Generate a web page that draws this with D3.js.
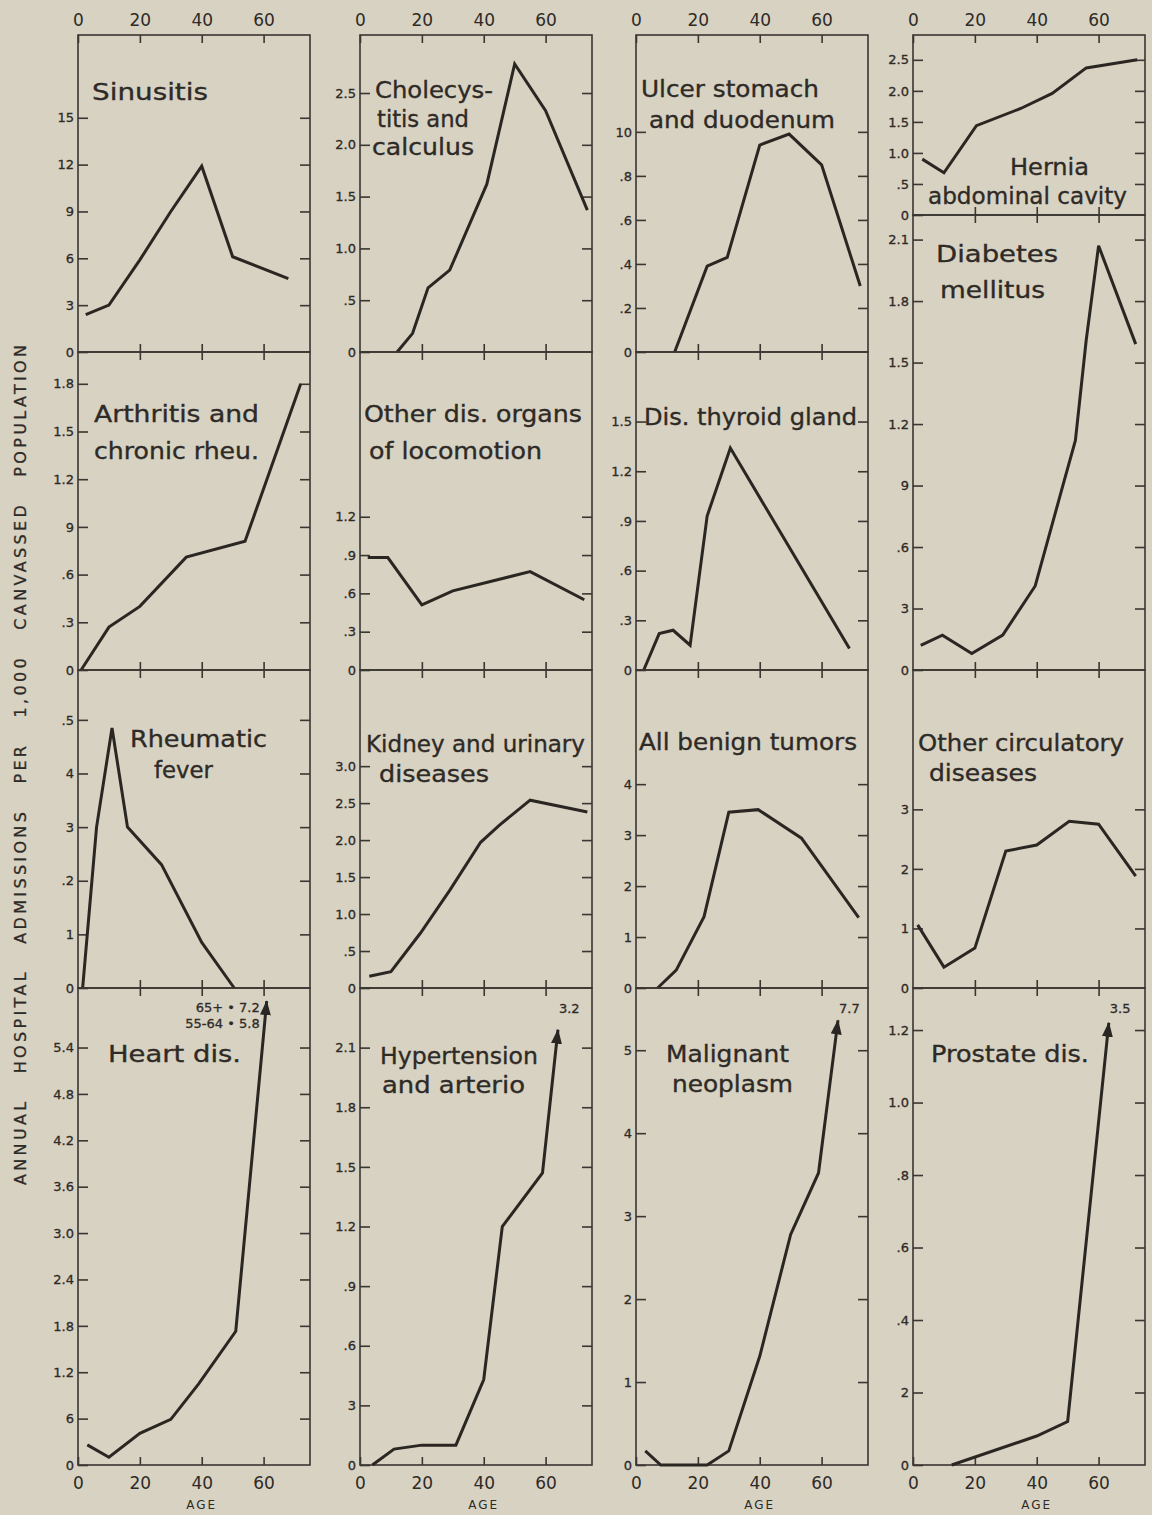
<!DOCTYPE html>
<meta charset="utf-8">
<style>
    body {
        margin: 0;
        background: #d8d2c3;
    }

    svg {
        display: block;
    }

    text {
        font-family: "DejaVu Sans", sans-serif;
        fill: #2e2a26;
    }

    .frame {
        fill: none;
        stroke: #3a3631;
        stroke-width: 1.6;
    }

    .tick line {
        stroke: #3a3631;
        stroke-width: 1.6;
    }

    .ytick text {
        font-size: 13px;
        stroke: #2e2a26;
        stroke-width: 0.3;
    }

    .xlab text {
        font-size: 17px;
    }

    .series {
        fill: none;
        stroke: #2a2723;
        stroke-width: 3;
        stroke-linejoin: miter;
    }

    .title {
        font-size: 23px;
        stroke: #2e2a26;
        stroke-width: 0.35;
    }

    .note {
        font-size: 13px;
        stroke: #2e2a26;
        stroke-width: 0.3;
    }
</style>
<svg width="1152" height="1515"></svg>
<script src="https://cdn.jsdelivr.net/npm/d3@7"></script>
<script>

    // age (years) and admissions per 1,000
    var sinusitisAge = [2.5, 10, 20, 30, 40, 50, 68];
    var sinusitisRate = [2.4, 3.0, 5.9, 9.0, 11.9, 6.1, 4.7];

    var cholecystitisAge = [12, 17, 22, 29, 41, 50, 60, 73.5];
    var cholecystitisRate = [0, 0.18, 0.62, 0.79, 1.62, 2.78, 2.33, 1.37];

    var ulcerAge = [12.5, 23, 29.5, 40, 49.5, 60, 72.5];
    var ulcerRate = [0, 0.39, 0.43, 0.94, 0.99, 0.85, 0.30];

    var herniaAge = [3, 10, 20.5, 35, 45, 56, 72.5];
    var herniaRate = [0.9, 0.68, 1.44, 1.72, 1.96, 2.37, 2.5];

    var diabetesAge = [2.5, 9.5, 19, 29, 39.5, 49, 52.5, 56, 60, 72];
    var diabetesRate = [0.12, 0.17, 0.08, 0.17, 0.41, 0.93, 1.12, 1.61, 2.07, 1.59];

    var arthritisAge = [1, 10, 20, 35, 54, 72];
    var arthritisRate = [0, 0.27, 0.40, 0.71, 0.81, 1.8];

    var locomotionAge = [2.5, 9, 20, 30, 55, 72.5];
    var locomotionRate = [0.88, 0.88, 0.51, 0.62, 0.77, 0.55];

    var thyroidAge = [2.5, 7.5, 12, 17.5, 23, 30.5, 69];
    var thyroidRate = [0, 0.22, 0.24, 0.15, 0.93, 1.34, 0.13];

    var rheumaticAge = [1.5, 6, 11, 16, 27, 40, 50.5];
    var rheumaticRate = [0, 0.30, 0.485, 0.30, 0.23, 0.085, 0];

    var kidneyAge = [3, 10, 19.5, 29, 39, 45, 55, 73.5];
    var kidneyRate = [0.16, 0.22, 0.74, 1.32, 1.97, 2.2, 2.54, 2.38];

    var benignAge = [7, 13, 22, 30, 39.5, 53.5, 72];
    var benignRate = [0, 0.35, 1.4, 3.45, 3.5, 2.94, 1.38];

    var circulatoryAge = [1.5, 10, 20, 30, 40, 50.5, 60, 72];
    var circulatoryRate = [1.06, 0.35, 0.67, 2.3, 2.4, 2.8, 2.75, 1.88];

    var heartAge = [3, 10, 20, 30, 39, 51, 61];
    var heartRate = [0.26, 0.10, 0.41, 0.59, 1.05, 1.73, 6.0];

    var hypertensionAge = [4, 11, 20, 31, 40, 46, 59, 64];
    var hypertensionRate = [0, 0.08, 0.10, 0.10, 0.43, 1.2, 1.47, 2.19];

    var malignantAge = [3, 8, 23, 30, 40, 50, 59, 65.3];
    var malignantRate = [0.17, 0, 0, 0.17, 1.31, 2.78, 3.52, 5.36];

    var prostateAge = [12.5, 40, 50, 63.3];
    var prostateRate = [0, 0.08, 0.12, 1.22];

    // y tick values and the labels as printed
    var sinusitisTicks = [0, 3, 6, 9, 12, 15];
    var sinusitisLabels = ["0", "3", "6", "9", "12", "15"];
    var halfTicks = [0, 0.5, 1, 1.5, 2, 2.5];
    var halfLabels = ["0", ".5", "1.0", "1.5", "2.0", "2.5"];
    var ulcerTicks = [0, 0.2, 0.4, 0.6, 0.8, 1.0];
    var ulcerLabels = ["0", ".2", ".4", ".6", ".8", "10"];
    var diabetesTicks = [0, 0.3, 0.6, 0.9, 1.2, 1.5, 1.8, 2.1];
    var diabetesLabels = ["0", "3", ".6", "9", "1.2", "1.5", "1.8", "2.1"];
    var arthritisTicks = [0, 0.3, 0.6, 0.9, 1.2, 1.5, 1.8];
    var arthritisLabels = ["0", ".3", ".6", "9", "1.2", "1.5", "1.8"];
    var locomotionTicks = [0, 0.3, 0.6, 0.9, 1.2];
    var locomotionLabels = ["0", ".3", ".6", ".9", "1.2"];
    var thyroidTicks = [0, 0.3, 0.6, 0.9, 1.2, 1.5];
    var thyroidLabels = ["0", ".3", ".6", ".9", "1.2", "1.5"];
    var rheumaticTicks = [0, 0.1, 0.2, 0.3, 0.4, 0.5];
    var rheumaticLabels = ["0", "1", ".2", "3", "4", ".5"];
    var kidneyTicks = [0, 0.5, 1, 1.5, 2, 2.5, 3];
    var kidneyLabels = ["0", ".5", "1.0", "1.5", "2.0", "2.5", "3.0"];
    var benignTicks = [0, 1, 2, 3, 4];
    var benignLabels = ["0", "1", "2", "3", "4"];
    var circulatoryTicks = [0, 1, 2, 3];
    var circulatoryLabels = ["0", "1", "2", "3"];
    var heartTicks = [0, 0.6, 1.2, 1.8, 2.4, 3.0, 3.6, 4.2, 4.8, 5.4];
    var heartLabels = ["0", "6", "1.2", "1.8", "2.4", "3.0", "3.6", "4.2", "4.8", "5.4"];
    var hypertensionTicks = [0, 0.3, 0.6, 0.9, 1.2, 1.5, 1.8, 2.1];
    var hypertensionLabels = ["0", "3", ".6", ".9", "1.2", "1.5", "1.8", "2.1"];
    var malignantTicks = [0, 1, 2, 3, 4, 5];
    var malignantLabels = ["0", "1", "2", "3", "4", "5"];
    var prostateTicks = [0, 0.2, 0.4, 0.6, 0.8, 1.0, 1.2];
    var prostateLabels = ["0", "2", ".4", ".6", ".8", "1.0", "1.2"];

    var ageTicks = [0, 20, 40, 60];

    var svg = d3.select("svg"),
        width = +svg.attr("width"),
        height = +svg.attr("height");

    var colLeft = [78, 360, 636, 913],
        panelW = 232,
        figTop = 35,
        figBottom = 1465;

    var x = d3.scaleLinear().domain([0, 75]).range([0, panelW]);

    // layout: panel box (top/bottom in px), top of y scale, title lines [text, dx, baseline, width]
    var panels = [
        { col: 0, top: 35, bottom: 352, yMax: 20.3, age: sinusitisAge, rate: sinusitisRate, ticks: sinusitisTicks, labels: sinusitisLabels,
          title: [["Sinusitis", 14, 65, 116]] },
        { col: 1, top: 35, bottom: 352, yMax: 3.06, age: cholecystitisAge, rate: cholecystitisRate, ticks: halfTicks, labels: halfLabels,
          title: [["Cholecys-", 15, 63, 118], ["titis and", 17, 92, 92], ["calculus", 12, 120, 102]] },
        { col: 2, top: 35, bottom: 352, yMax: 1.44, age: ulcerAge, rate: ulcerRate, ticks: ulcerTicks, labels: ulcerLabels,
          title: [["Ulcer stomach", 5, 62, 178], ["and duodenum", 13, 93, 186]] },
        { col: 3, top: 35, bottom: 215, yMax: 2.9, age: herniaAge, rate: herniaRate, ticks: halfTicks, labels: halfLabels,
          title: [["Hernia", 97, 140, 79], ["abdominal cavity", 15, 169, 199]] },
        { col: 3, top: 215, bottom: 670, yMax: 2.22, age: diabetesAge, rate: diabetesRate, ticks: diabetesTicks, labels: diabetesLabels,
          title: [["Diabetes", 23, 47, 122], ["mellitus", 27, 83, 105]] },
        { col: 0, top: 352, bottom: 670, yMax: 2.0, age: arthritisAge, rate: arthritisRate, ticks: arthritisTicks, labels: arthritisLabels,
          title: [["Arthritis and", 16, 70, 165], ["chronic rheu.", 16, 107, 165]] },
        { col: 1, top: 352, bottom: 670, yMax: 2.49, age: locomotionAge, rate: locomotionRate, ticks: locomotionTicks, labels: locomotionLabels,
          title: [["Other dis. organs", 4, 70, 218], ["of locomotion", 9, 107, 173]] },
        { col: 2, top: 352, bottom: 670, yMax: 1.92, age: thyroidAge, rate: thyroidRate, ticks: thyroidTicks, labels: thyroidLabels,
          title: [["Dis. thyroid gland", 8, 73, 213]] },
        { col: 0, top: 670, bottom: 988, yMax: 0.593, age: rheumaticAge, rate: rheumaticRate, ticks: rheumaticTicks, labels: rheumaticLabels,
          title: [["Rheumatic", 52, 77, 137], ["fever", 76, 108, 59]] },
        { col: 1, top: 670, bottom: 988, yMax: 4.3, age: kidneyAge, rate: kidneyRate, ticks: kidneyTicks, labels: kidneyLabels,
          title: [["Kidney and urinary", 6, 82, 219], ["diseases", 19, 112, 110]] },
        { col: 2, top: 670, bottom: 988, yMax: 6.24, age: benignAge, rate: benignRate, ticks: benignTicks, labels: benignLabels,
          title: [["All benign tumors", 3, 80, 218]] },
        { col: 3, top: 670, bottom: 988, yMax: 5.34, age: circulatoryAge, rate: circulatoryRate, ticks: circulatoryTicks, labels: circulatoryLabels,
          title: [["Other circulatory", 5, 81, 206], ["diseases", 16, 111, 108]] },
        { col: 0, top: 988, bottom: 1465, yMax: 6.17, age: heartAge, rate: heartRate, ticks: heartTicks, labels: heartLabels, arrow: true,
          title: [["Heart dis.", 30, 74, 133]], note: ["65+ \u2022 7.2", "55-64 \u2022 5.8"], noteSide: "left" },
        { col: 1, top: 988, bottom: 1465, yMax: 2.4, age: hypertensionAge, rate: hypertensionRate, ticks: hypertensionTicks, labels: hypertensionLabels, arrow: true,
          title: [["Hypertension", 20, 76, 158], ["and arterio", 22, 105, 143]], note: ["3.2"] },
        { col: 2, top: 988, bottom: 1465, yMax: 5.75, age: malignantAge, rate: malignantRate, ticks: malignantTicks, labels: malignantLabels, arrow: true,
          title: [["Malignant", 30, 74, 123], ["neoplasm", 36, 104, 121]], note: ["7.7"] },
        { col: 3, top: 988, bottom: 1465, yMax: 1.316, age: prostateAge, rate: prostateRate, ticks: prostateTicks, labels: prostateLabels, arrow: true,
          title: [["Prostate dis.", 18, 74, 158]], note: ["3.5"] }
    ];

    svg.append("rect")
        .attr("width", width)
        .attr("height", height)
        .attr("fill", "#d8d2c3");

    svg.append("defs").append("marker")
        .attr("id", "head")
        .attr("viewBox", "0 0 15 11")
        .attr("refX", 14)
        .attr("refY", 5.5)
        .attr("markerUnits", "userSpaceOnUse")
        .attr("markerWidth", 15)
        .attr("markerHeight", 11)
        .attr("orient", "auto")
        .append("path")
        .attr("d", "M0,0L15,5.5L0,11Z")
        .attr("fill", "#2a2723");

    panels.forEach(function (p) {
        var y = d3.scaleLinear()
            .domain([0, p.yMax])
            .range([p.bottom - p.top, 0]);

        var h = p.bottom - p.top;

        var g = svg.append("g")
            .attr("transform", "translate(" + colLeft[p.col] + "," + p.top + ")");

        g.append("rect")
            .attr("class", "frame")
            .attr("width", panelW)
            .attr("height", h);

        // left ticks with labels, pointing inward
        g.append("g")
            .attr("class", "ytick")
            .call(d3.axisLeft(y)
                .tickValues(p.ticks)
                .tickSize(-10)
                .tickPadding(4)
                .tickFormat(function (d, i) { return p.labels[i]; }))
            .call(function (a) { a.select(".domain").remove(); });

        // right ticks, no labels
        g.append("g")
            .attr("transform", "translate(" + panelW + ",0)")
            .call(d3.axisRight(y)
                .tickValues(p.ticks.filter(function (d) { return d > 0; }))
                .tickSize(-10)
                .tickFormat(""))
            .call(function (a) { a.select(".domain").remove(); });

        // age ticks top and bottom
        var topAxis = d3.axisTop(x).tickSize(-8);
        if (p.top === figTop) {
            topAxis.tickValues(ageTicks).tickPadding(9);
        } else {
            topAxis.tickValues(ageTicks.slice(1)).tickFormat("");
        }
        g.append("g")
            .attr("class", "xlab")
            .call(topAxis)
            .call(function (a) { a.select(".domain").remove(); });

        var bottomAxis = d3.axisBottom(x).tickSize(-8);
        if (p.bottom === figBottom) {
            bottomAxis.tickValues(ageTicks).tickPadding(12);
        } else {
            bottomAxis.tickValues(ageTicks.slice(1)).tickFormat("");
        }
        g.append("g")
            .attr("class", "xlab")
            .attr("transform", "translate(0," + h + ")")
            .call(bottomAxis)
            .call(function (a) { a.select(".domain").remove(); });

        if (p.bottom === figBottom) {
            g.append("text")
                .attr("x", x(40))
                .attr("y", h + 44)
                .attr("text-anchor", "middle")
                .attr("font-size", 12)
                .attr("letter-spacing", 2)
                .text("AGE");
        }

        var pts = d3.zip(p.age, p.rate);

        var line = d3.line()
            .x(function (d) { return x(d[0]); })
            .y(function (d) { return y(d[1]); });

        g.append("path")
            .datum(pts)
            .attr("class", "series")
            .attr("d", line)
            .attr("marker-end", p.arrow ? "url(#head)" : null);

        g.selectAll(".title-line")
            .data(p.title)
            .enter().append("text")
            .attr("class", "title")
            .attr("x", function (d) { return d[1]; })
            .attr("y", function (d) { return d[2]; })
            .attr("textLength", function (d) { return d[3]; })
            .attr("lengthAdjust", "spacingAndGlyphs")
            .text(function (d) { return d[0]; });

        if (p.note) {
            var last = pts[pts.length - 1];
            var left = p.noteSide === "left";
            g.selectAll(".note")
                .data(p.note)
                .enter().append("text")
                .attr("class", "note")
                .attr("x", x(last[0]) + (left ? -7 : 1))
                .attr("y", function (d, i) { return (left ? 24 : 25) + i * 16; })
                .attr("text-anchor", left ? "end" : "start")
                .text(function (d) { return d; });
        }
    });

    svg.append("text")
        .attr("transform", "translate(26,765) rotate(-90)")
        .attr("text-anchor", "middle")
        .attr("font-size", 16)
        .attr("textLength", 840)
        .attr("lengthAdjust", "spacing")
        .attr("stroke", "#2e2a26")
        .attr("stroke-width", 0.3)
        .style("white-space", "pre")
        .text("ANNUAL   HOSPITAL   ADMISSIONS   PER   1,000   CANVASSED   POPULATION");

</script>
